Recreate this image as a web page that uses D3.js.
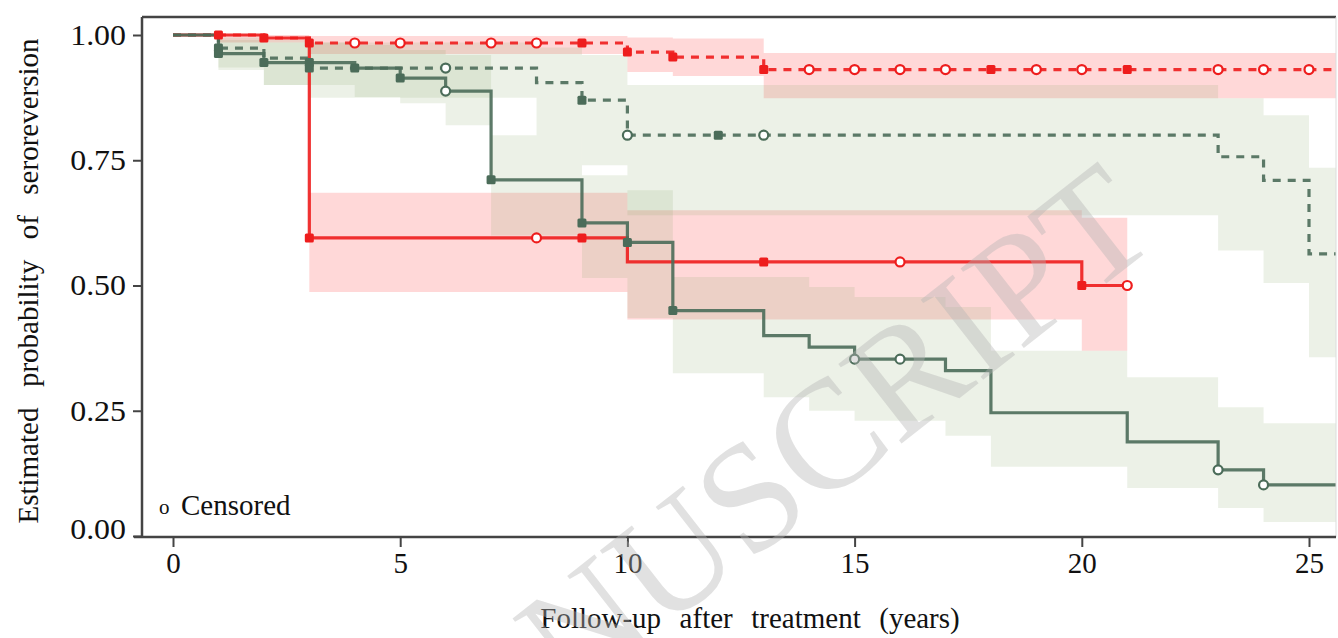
<!DOCTYPE html>
<html>
<head>
<meta charset="utf-8">
<script src="https://cdn.jsdelivr.net/npm/d3@7"></script>
<style>
  body { margin: 0; background: #fff; }
  svg { display: block; }
  text { font-family: 'Liberation Serif', 'Times New Roman', serif; fill: #111; white-space: pre; }
</style>
</head>
<body>
<svg id="area" width="1338" height="638"></svg>
<script>
// follow-up window shown (years)
const tEnd = 25.6;
const xTicks = [0, 5, 10, 15, 20, 25];
const yTicks = [0, 0.25, 0.5, 0.75, 1];
const yTickLabels = ['0.00', '0.25', '0.50', '0.75', '1.00'];

// red, solid
const redSolidTimes = [0, 2, 3, 10, 20];
const redSolidSurv = [1, 0.994, 0.595, 0.547, 0.50];
const redSolidLast = 21;
const redSolidBandTimes = [3, 10, 20];
const redSolidLow = [0.487, 0.432, 0.37];
const redSolidHigh = [0.685, 0.65, 0.635];
const redSolidMarks = [3, 8, 9, 13, 16, 20, 21];
const redSolidMarkType = ['s', 'o', 's', 's', 'o', 's', 'o'];

// red, dashed
const redDashTimes = [0, 2, 3, 10, 11, 13];
const redDashSurv = [1, 0.994, 0.984, 0.966, 0.956, 0.931];
const redDashBandTimes = [1, 3, 10, 11, 13];
const redDashLow = [0.985, 0.962, 0.926, 0.918, 0.874];
const redDashHigh = [1, 0.998, 0.995, 0.993, 0.964];
const redDashMarks = [1, 2, 3, 4, 5, 7, 8, 9, 10, 11, 13, 14, 15, 16, 17, 18, 19, 20, 21, 23, 24, 25];
const redDashMarkType = ['s', 's', 's', 'o', 'o', 'o', 'o', 's', 's', 's', 's', 'o', 'o', 'o', 'o', 's', 'o', 'o', 's', 'o', 'o', 'o'];

// green, dashed
const greenDashTimes = [0, 1, 2, 3, 8, 9, 10, 23, 24, 25];
const greenDashSurv = [1, 0.974, 0.954, 0.934, 0.905, 0.87, 0.80, 0.757, 0.71, 0.563];
const greenDashBandTimes = [1, 2, 3, 8, 9, 10, 23, 24, 25];
const greenDashLow = [0.93, 0.90, 0.875, 0.80, 0.74, 0.64, 0.57, 0.505, 0.357];
const greenDashHigh = [0.995, 0.99, 0.985, 0.975, 0.96, 0.90, 0.874, 0.84, 0.735];
const greenDashMarks = [1, 3, 6, 9, 10, 12, 13];
const greenDashMarkType = ['s', 's', 'o', 's', 'o', 's', 'o'];

// green, solid
const greenSolidTimes = [0, 1, 2, 4, 5, 6, 7, 9, 10, 11, 13, 14, 15, 17, 18, 21, 23, 24];
const greenSolidSurv = [1, 0.963, 0.945, 0.934, 0.914, 0.888, 0.711, 0.625, 0.586, 0.45, 0.40, 0.377, 0.353, 0.33, 0.246, 0.188, 0.132, 0.102];
const greenSolidBandTimes = [1, 2, 4, 5, 6, 7, 9, 10, 11, 13, 14, 15, 17, 18, 21, 23, 24];
const greenSolidLow = [0.935, 0.90, 0.876, 0.864, 0.82, 0.60, 0.515, 0.435, 0.325, 0.277, 0.25, 0.23, 0.20, 0.138, 0.096, 0.056, 0.028];
const greenSolidHigh = [0.99, 0.985, 0.98, 0.97, 0.96, 0.80, 0.72, 0.69, 0.517, 0.517, 0.497, 0.477, 0.457, 0.37, 0.317, 0.257, 0.225];
const greenSolidMarks = [1, 2, 3, 4, 5, 6, 7, 9, 10, 11, 15, 16, 23, 24];
const greenSolidMarkType = ['s', 's', 's', 's', 's', 'o', 's', 's', 's', 's', 'o', 'o', 'o', 'o'];

const red = '#ee1d1d';
const green = '#4b6c59';

const svg = d3.select('#area');
const plotL = 142, plotR = 1336, plotT = 17, plotB = 537;

const x = d3.scaleLinear([0, 25], [173, 1309]);
const y = d3.scaleLinear([0, 1], [536, 35]);

// step series -> points, holding last value until `last`
function steps(times, vals, last) {
  const pts = times.map((t, i) => [t, vals[i]]);
  pts.push([last, vals[vals.length - 1]]);
  return pts;
}
function bandPts(times, lo, hi, last) {
  const pts = times.map((t, i) => ({ t, lo: lo[i], hi: hi[i] }));
  pts.push({ t: last, lo: lo[lo.length - 1], hi: hi[hi.length - 1] });
  return pts;
}
function valueAt(times, vals, t) {
  let v = vals[0];
  times.forEach((tt, i) => { if (tt <= t) v = vals[i]; });
  return v;
}

const series = [
  { times: redDashTimes, surv: redDashSurv, last: tEnd, bt: redDashBandTimes, lo: redDashLow, hi: redDashHigh,
    marks: redDashMarks, types: redDashMarkType, color: red, band: '#ff3b3b', dash: '8,7' },
  { times: redSolidTimes, surv: redSolidSurv, last: redSolidLast, bt: redSolidBandTimes, lo: redSolidLow, hi: redSolidHigh,
    marks: redSolidMarks, types: redSolidMarkType, color: red, band: '#ff3b3b', dash: null },
  { times: greenDashTimes, surv: greenDashSurv, last: tEnd, bt: greenDashBandTimes, lo: greenDashLow, hi: greenDashHigh,
    marks: greenDashMarks, types: greenDashMarkType, color: green, band: '#86a86a', dash: '8,7' },
  { times: greenSolidTimes, surv: greenSolidSurv, last: tEnd, bt: greenSolidBandTimes, lo: greenSolidLow, hi: greenSolidHigh,
    marks: greenSolidMarks, types: greenSolidMarkType, color: green, band: '#86a86a', dash: null }
];

svg.append('defs').append('clipPath').attr('id', 'plot')
  .append('rect').attr('x', plotL).attr('y', plotT).attr('width', plotR - plotL).attr('height', plotB - plotT);

const plot = svg.append('g').attr('clip-path', 'url(#plot)');

// confidence bands
const area = d3.area()
  .curve(d3.curveStepAfter)
  .x((d) => x(d.t))
  .y0((d) => y(d.lo))
  .y1((d) => y(d.hi));

plot.append('g').selectAll('path')
  .data(series)
  .join('path')
  .attr('d', (s) => area(bandPts(s.bt, s.lo, s.hi, s.last)))
  .attr('fill', (s) => s.band)
  .attr('fill-opacity', (s) => (s.color === red ? 0.2 : 0.16));

// survival curves
const line = d3.line()
  .curve(d3.curveStepAfter)
  .x((d) => x(d[0]))
  .y((d) => y(d[1]));

plot.append('g').selectAll('path')
  .data(series)
  .join('path')
  .attr('d', (s) => line(steps(s.times, s.surv, s.last)))
  .attr('fill', 'none')
  .attr('stroke', (s) => s.color)
  .attr('stroke-width', 3.2)
  .attr('stroke-opacity', 0.9)
  .attr('stroke-dasharray', (s) => s.dash);

// markers
series.forEach((s) => {
  const pts = s.marks.map((t, i) => ({ t, type: s.types[i], v: valueAt(s.times, s.surv, t) }));
  const g = plot.append('g');
  g.selectAll('rect')
    .data(pts.filter((d) => d.type === 's'))
    .join('rect')
    .attr('x', (d) => x(d.t) - 4.5)
    .attr('y', (d) => y(d.v) - 4.5)
    .attr('width', 9)
    .attr('height', 9)
    .attr('rx', 1.5)
    .attr('fill', s.color);
  g.selectAll('circle')
    .data(pts.filter((d) => d.type === 'o'))
    .join('circle')
    .attr('cx', (d) => x(d.t))
    .attr('cy', (d) => y(d.v))
    .attr('r', 4.5)
    .attr('fill', '#fff')
    .attr('stroke', s.color)
    .attr('stroke-width', 2.2);
});

// frame
svg.append('line').attr('x1', plotL).attr('x2', plotR).attr('y1', plotT).attr('y2', plotT)
  .attr('stroke', '#444').attr('stroke-width', 2.5);
svg.append('line').attr('x1', plotR).attr('x2', plotR).attr('y1', plotT).attr('y2', plotB)
  .attr('stroke', '#ddd').attr('stroke-width', 1);

// axes
const yAxis = svg.append('g')
  .attr('transform', `translate(${plotL},0)`)
  .call(d3.axisLeft(y).tickValues(yTicks).tickFormat((d, i) => yTickLabels[i]).tickSizeOuter(0).tickSize(9).tickPadding(7));
yAxis.select('.domain').attr('d', `M0,${plotT}V${plotB}`);

const xAxis = svg.append('g')
  .attr('transform', `translate(0,${plotB})`)
  .call(d3.axisBottom(x).tickValues(xTicks).tickSizeOuter(0).tickSize(10).tickPadding(5));
xAxis.select('.domain').attr('d', `M${plotL - 8},0H${plotR}`);

[yAxis, xAxis].forEach((a) => {
  a.select('.domain').attr('stroke', '#444').attr('stroke-width', 2.5);
  a.selectAll('.tick line').attr('stroke', '#444').attr('stroke-width', 2);
  a.selectAll('.tick text').style('font-size', '29px').attr('fill', '#111');
});
yAxis.selectAll('.tick text').filter((d) => d === 0).attr('dy', '0.1em');
yAxis.selectAll('.tick text').attr('transform', 'scale(1.1,1)').attr('x', -16 / 1.1 - 0.0001);

// titles
svg.append('text')
  .attr('x', 750).attr('y', 628)
  .attr('text-anchor', 'middle')
  .style('font-size', '29px')
  .style('word-spacing', '2px')
  .text('Follow-up  after  treatment  (years)');

svg.append('text')
  .attr('transform', 'translate(38,281) rotate(-90)')
  .attr('text-anchor', 'middle')
  .style('font-size', '29px')
  .style('word-spacing', '3px')
  .text('Estimated  probability  of  seroreversion');

// legend note
svg.append('text').attr('x', 159).attr('y', 514).style('font-size', '21px').text('o');
svg.append('text').attr('x', 181).attr('y', 515).style('font-size', '29px').text('Censored');

// watermark
svg.append('text')
  .attr('transform', 'translate(1162,240) rotate(-38)')
  .attr('text-anchor', 'end')
  .style('font-size', '155px')
  .style('fill', '#b5b5b5')
  .style('fill-opacity', 0.4)
  .text('MANUSCRIPT');
</script>
</body>
</html>
